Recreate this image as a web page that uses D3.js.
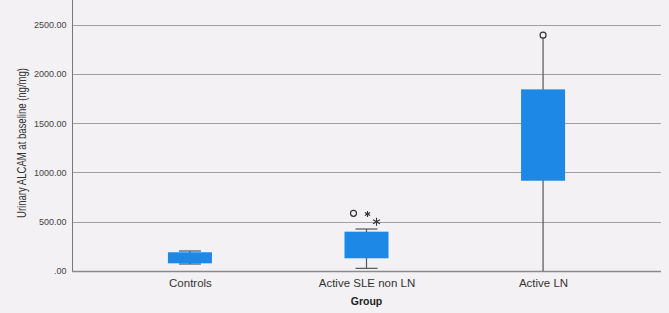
<!DOCTYPE html>
<html><head><meta charset="utf-8">
<script src="https://cdn.jsdelivr.net/npm/d3@7"></script>
<style>
html,body{margin:0;padding:0;background:#f3f1f3;}
svg{display:block;}
text{font-family:"Liberation Sans",Arial,sans-serif;}
</style></head>
<body><svg id="c" width="669" height="313"></svg>
<script>
const categories = ["Controls", "Active SLE non LN", "Active LN"];
const whiskerLow  = [71, 27, 0];
const q1          = [78, 129, 916];
const q3          = [190, 399, 1843];
const whiskerHigh = [203, 426, 2370];
const outlierGroup = ["Active SLE non LN", "Active SLE non LN", "Active SLE non LN", "Active LN"];
const outlierValue = [585, 578, 500, 2393];
const outlierKind  = ["circle", "star", "star", "circle"];
const yTicks = [0, 500, 1000, 1500, 2000, 2500];
const yTickLabels = [".00", "500.00", "1000.00", "1500.00", "2000.00", "2500.00"];

const svg = d3.select("#c");
const L = 72, R = 661, T = 0, B = 271;
const x = d3.scalePoint().domain(categories).range([L, R]).padding(0.668);
const y = d3.scaleLinear().domain([0, 2750]).range([B, T]);

// gridlines
svg.append("g").selectAll("line").data(yTicks).join("line")
  .attr("x1", L).attr("x2", R)
  .attr("y1", d => Math.round(y(d)) + 0.5).attr("y2", d => Math.round(y(d)) + 0.5)
  .attr("stroke", d => d === 0 ? "#8a8a8a" : "#a0a0a0").attr("stroke-width", d => d === 0 ? 1.5 : 1);

// y axis
const yAxis = d3.axisLeft(y).tickValues(yTicks).tickSize(0).tickPadding(6)
  .tickFormat((d, i) => yTickLabels[i]);
const ga = svg.append("g").attr("transform", `translate(${L + 0.5},0)`).call(yAxis);
ga.select(".domain").attr("stroke", "#777").attr("d", `M0,${T}V${B}`);
ga.selectAll("text").attr("font-size", 9).attr("fill", "#444")
  .attr("font-family", "Liberation Sans, Arial, sans-serif");

// x axis labels
const xAxis = d3.axisBottom(x).tickSize(0).tickPadding(8);
const gx = svg.append("g").attr("transform", `translate(0,${B})`).call(xAxis);
gx.select(".domain").remove();
gx.selectAll("text").attr("font-size", 11.5).attr("fill", "#333")
  .attr("font-family", "Liberation Sans, Arial, sans-serif");

// titles
svg.append("text").attr("x", x("Active SLE non LN")).attr("y", 305)
  .attr("text-anchor", "middle").attr("font-size", 10.5).attr("font-weight", "bold")
  .attr("fill", "#222").text("Group");
svg.append("text").attr("transform", "translate(26,143) rotate(-90)")
  .attr("text-anchor", "middle").attr("font-size", 12).attr("fill", "#333")
  .attr("textLength", 150).attr("lengthAdjust", "spacingAndGlyphs")
  .text("Urinary ALCAM at baseline (ng/mg)");

// boxes
const boxW = 44, capW = 22;
const withCaps = ["Controls", "Active SLE non LN"];
const g = svg.append("g");
categories.forEach((c, i) => {
  const cx = x(c);
  g.append("line").attr("x1", cx).attr("x2", cx)
    .attr("y1", y(whiskerLow[i])).attr("y2", y(whiskerHigh[i]))
    .attr("stroke", "#555").attr("stroke-width", 1.2);
  if (withCaps.includes(c)) {
    [whiskerLow[i], whiskerHigh[i]].forEach(v => {
      g.append("line").attr("x1", cx - capW / 2).attr("x2", cx + capW / 2)
        .attr("y1", y(v)).attr("y2", y(v)).attr("stroke", "#555").attr("stroke-width", 1.2);
    });
  }
  g.append("rect").attr("x", cx - boxW / 2).attr("width", boxW)
    .attr("y", y(q3[i])).attr("height", y(q1[i]) - y(q3[i]))
    .attr("fill", "#1e88e6");
});

// outliers
const offsets = [-13, 1, 10, 0];
const starSize = [0, 3, 4, 0];
outlierValue.forEach((v, i) => {
  const cx = x(outlierGroup[i]) + offsets[i], cy = y(v);
  if (outlierKind[i] === "circle") {
    g.append("circle").attr("cx", cx).attr("cy", cy).attr("r", 3)
      .attr("fill", "none").attr("stroke", "#333").attr("stroke-width", 1.2);
  } else {
    const r = starSize[i];
    [90, 30, 150].forEach(a => {
      const rad = a * Math.PI / 180;
      g.append("line").attr("x1", cx - r * Math.cos(rad)).attr("x2", cx + r * Math.cos(rad))
        .attr("y1", cy - r * Math.sin(rad)).attr("y2", cy + r * Math.sin(rad))
        .attr("stroke", "#333").attr("stroke-width", 1.1);
    });
  }
});
</script></body></html>
